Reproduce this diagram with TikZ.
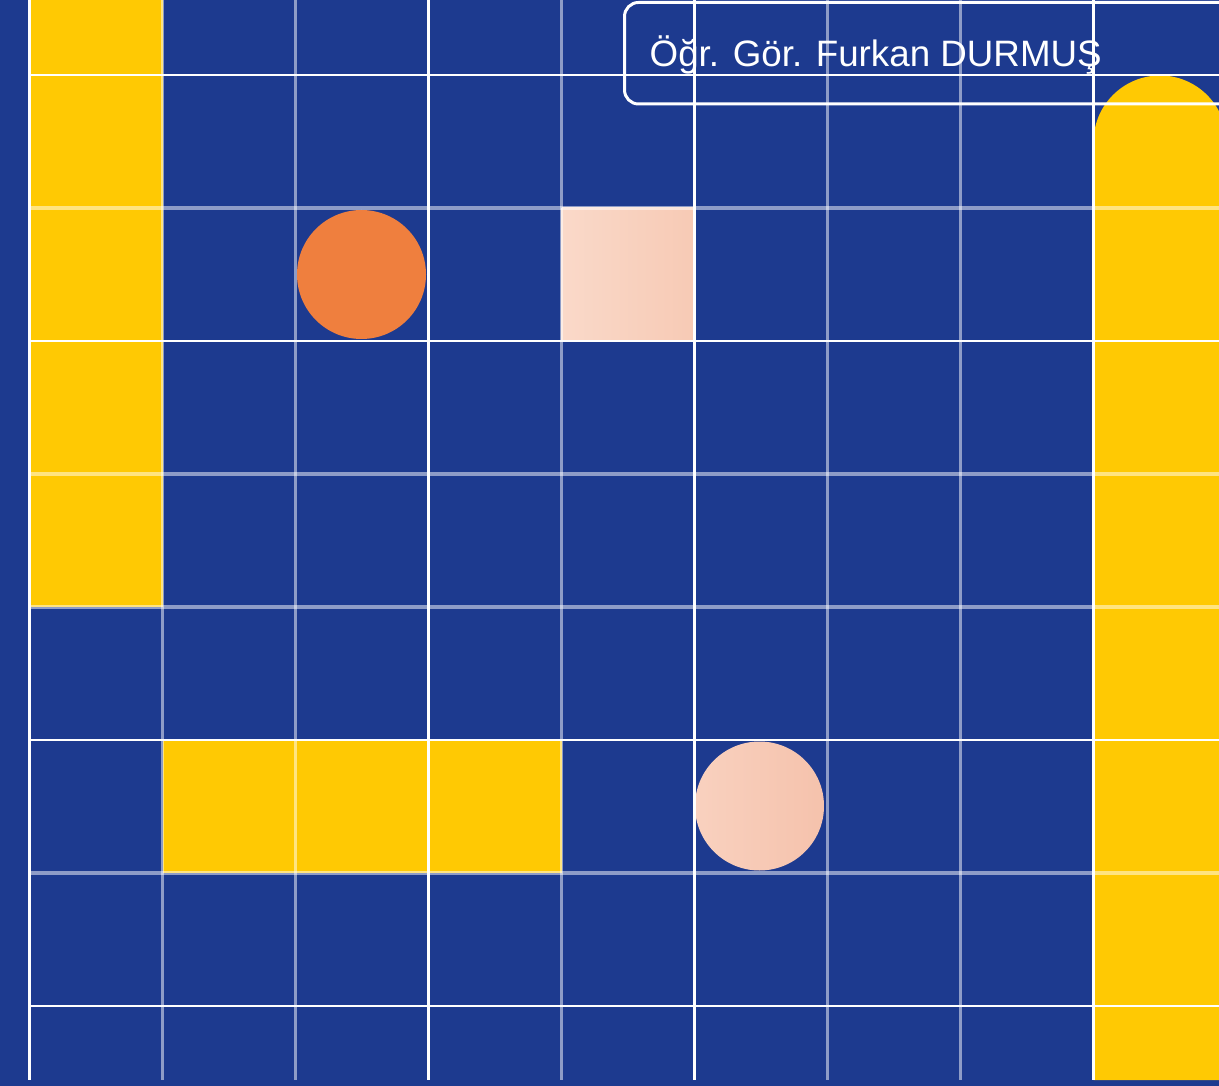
\documentclass[tikz,border=0pt]{standalone}
\usepackage{fontspec}
\setmainfont{Liberation Sans}
\definecolor{boardblue}{HTML}{1D3A8F}
\definecolor{tileyellow}{HTML}{FFC903}
\definecolor{dotorange}{HTML}{EF7F3E}
\definecolor{peachleft}{HTML}{FAD9C9}
\definecolor{peachright}{HTML}{F7CAB5}
\definecolor{dotpeachleft}{HTML}{F9D1BF}
\definecolor{dotpeachright}{HTML}{F5C2AC}

\begin{document}
\begin{tikzpicture}[x=0.01cm,y=-0.01cm,line cap=butt,
    strongline/.style={white,line width=0.026cm},
    faintline/.style={white,opacity=0.5,line width=0.032cm}]
  \useasboundingbox (0,0) rectangle (1219,1086);
  \clip (0,0) rectangle (1219,1086);
  \fill[boardblue] (0,0) rectangle (1219,1086);
  % tiles
  \fill[tileyellow] (29.5,0) rectangle (162.5,607);
  \fill[tileyellow] (162.5,740) rectangle (561.5,873);
  \fill[tileyellow] (1093.5,1080) -- (1093.5,142) arc (180:360:66.5) -- (1226.5,1080) -- cycle;
  \shade[left color=peachleft,right color=peachright] (561.5,208) rectangle (694.5,341);
  \fill[dotorange] (361.5,274.5) circle (64.5);
  \shade[left color=dotpeachleft,right color=dotpeachright] (759.5,806) circle (64.5);
  % grid
  \foreach \gx in {29.5,428.5,694.5,1093.5}
    \draw[strongline] (\gx,0) -- (\gx,1080);
  \foreach \gx in {162.5,295.5,561.5,827.5,960.5}
    \draw[faintline] (\gx,0) -- (\gx,1080);
  \foreach \gy in {75,341,740,1006}
    \draw[strongline] (29.5,\gy) -- (1219,\gy);
  \foreach \gy in {208,474,607,873}
    \draw[faintline] (29.5,\gy) -- (1219,\gy);
  % name plate
  \draw[white,line width=0.03cm,rounded corners=0.14cm] (624.5,2.5) rectangle (1270,104);
  \node[anchor=base west,inner sep=0pt,text=white,font=\fontsize{10.45}{12}\selectfont] (author) at (649,67) {Öğr. Gör. Furkan DURMUŞ};
\end{tikzpicture}
\end{document}
